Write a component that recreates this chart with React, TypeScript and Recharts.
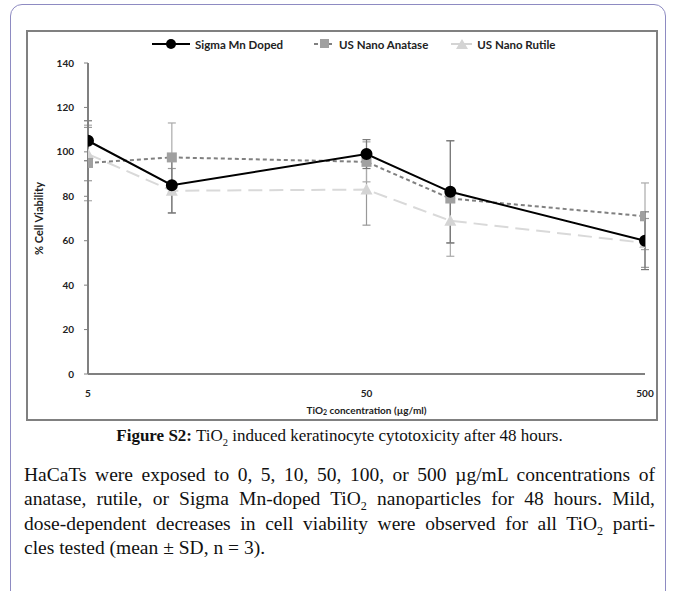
import React from 'react';
import { LineChart, Line, XAxis, YAxis, ErrorBar, Legend } from 'recharts';

const doses = [5, 10, 50, 100, 500];
const sigmaMean = [105, 85, 99, 82, 60];
const sigmaSd = [9, 12.5, 6.5, 23, 13];
const anataseMean = [95, 97.5, 95.5, 79, 71];
const anataseSd = [17, 15.5, 9, 26, 15];
const rutileMean = [99, 82.5, 83, 69, 59];
const rutileSd = [12, 10, 16, 10, 11];
const xTicks = [5, 50, 500];
const yTicks = [0, 20, 40, 60, 80, 100, 120, 140];
const seriesNames = ['Sigma Mn Doped', 'US Nano Anatase', 'US Nano Rutile'];

const data = doses.map((x, i) => ({
  x,
  sigma: sigmaMean[i],
  sigmaErr: sigmaSd[i],
  anatase: anataseMean[i],
  anataseErr: anataseSd[i],
  rutile: rutileMean[i],
  rutileErr: rutileSd[i],
}));

const FONT = 'Lato, "Open Sans", sans-serif';
const SERIF = '"Liberation Serif", "Times New Roman", serif';

const SquareDot = (props: any) => {
  const { cx, cy, index } = props;
  if (cx == null || cy == null) return <g key={`sq-${index}`} />;
  return <rect key={`sq-${index}`} x={cx - 5} y={cy - 5} width={10} height={10} fill="#a0a0a0" />;
};

const TriDot = (props: any) => {
  const { cx, cy, index } = props;
  if (cx == null || cy == null) return <g key={`tr-${index}`} />;
  return (
    <polygon
      key={`tr-${index}`}
      points={`${cx},${cy - 6} ${cx + 6},${cy + 5} ${cx - 6},${cy + 5}`}
      fill="#d4d4d4"
    />
  );
};

const LegendContent = () => (
  <div
    style={{
      display: 'flex',
      justifyContent: 'flex-start',
      alignItems: 'center',
      fontFamily: FONT,
      fontWeight: 700,
      fontSize: 11.5,
      color: '#222',
      paddingLeft: 124,
      height: 16,
    }}
  >
    <div style={{ display: 'flex', alignItems: 'center', marginRight: 31 }}>
      <svg width={38} height={12}>
        <line x1={0} y1={6} x2={38} y2={6} stroke="#000" strokeWidth={2} />
        <circle cx={19} cy={6} r={5} fill="#000" />
      </svg>
      <span style={{ marginLeft: 5 }}>{seriesNames[0]}</span>
    </div>
    <div style={{ display: 'flex', alignItems: 'center', marginRight: 23 }}>
      <svg width={21} height={12}>
        <line x1={0} y1={6} x2={21} y2={6} stroke="#808080" strokeWidth={2} strokeDasharray="4 3" />
        <rect x={6} y={1} width={9} height={9} fill="#a0a0a0" />
      </svg>
      <span style={{ marginLeft: 4 }}>{seriesNames[1]}</span>
    </div>
    <div style={{ display: 'flex', alignItems: 'center' }}>
      <svg width={21} height={12}>
        <line x1={0} y1={6} x2={21} y2={6} stroke="#d4d4d4" strokeWidth={2} />
        <polygon points="11,1 17,11 5,11" fill="#d4d4d4" />
      </svg>
      <span style={{ marginLeft: 5 }}>{seriesNames[2]}</span>
    </div>
  </div>
);

const YLabel = (props: any) => {
  const vb = props.viewBox || {};
  const x = 10;
  const y = vb.y + vb.height / 2;
  return (
    <text
      x={x}
      y={y}
      transform={`rotate(-90 ${x} ${y})`}
      textAnchor="middle"
      dominantBaseline="central"
      fontFamily={FONT}
      fontWeight={700}
      fontSize={11}
      fill="#222"
    >
      % Cell Viability
    </text>
  );
};

const XLabel = (props: any) => {
  const vb = props.viewBox || {};
  const x = vb.x + vb.width / 2;
  const y = vb.y + 36;
  return (
    <text x={x} y={y} textAnchor="middle" dominantBaseline="central" fontFamily={FONT} fontWeight={700} fontSize={10} fill="#222">
      TiO<tspan fontSize={7} dy={2}>2</tspan>
      <tspan dy={-2}> concentration (µg/ml)</tspan>
    </text>
  );
};

const Sub = () => <sub style={{ fontSize: '0.62em', verticalAlign: -5, lineHeight: 0 }}>2</sub>;

const lineStyle: React.CSSProperties = {
  textAlign: 'justify',
  textAlignLast: 'justify',
  whiteSpace: 'nowrap',
  height: 24.3,
};

export default function App() {
  return (
    <div style={{ position: 'absolute', left: 0, top: 0, width: 678, height: 591, background: '#fff', overflow: 'hidden' }}>
      <div
        style={{
          position: 'absolute',
          left: 10,
          top: 4,
          width: 656,
          height: 620,
          border: '1.5px solid #8e8bc2',
          borderRadius: 12,
          boxSizing: 'border-box',
        }}
      />
      <div
        style={{
          position: 'absolute',
          left: 26,
          top: 30,
          width: 632,
          height: 391,
          border: '2px solid #808080',
          boxSizing: 'border-box',
          background: '#fff',
        }}
      >
        <LineChart width={628} height={387} data={data} margin={{ top: 15, right: 11, bottom: 0, left: 0 }}>
          <Legend verticalAlign="top" content={<LegendContent />} wrapperStyle={{ position: 'absolute', top: 4, left: 0, width: '100%' }} />
          <XAxis
            dataKey="x"
            type="number"
            scale="log"
            domain={[5, 500]}
            ticks={xTicks}
            allowDataOverflow
            tickLine={false}
            axisLine={{ stroke: '#808080', strokeWidth: 2 }}
            tick={{ fontFamily: FONT, fontWeight: 700, fontSize: 10, fill: '#222' }}
            tickMargin={10}
            height={45}
            label={<XLabel />}
          />
          <YAxis
            type="number"
            domain={[0, 140]}
            ticks={yTicks}
            width={60}
            tickSize={4}
            tickMargin={10}
            axisLine={{ stroke: '#808080', strokeWidth: 2 }}
            tickLine={{ stroke: '#808080' }}
            tick={{ fontFamily: FONT, fontWeight: 700, fontSize: 10, fill: '#222' }}
            label={<YLabel />}
          />
          <Line dataKey="rutile" stroke="#d9d9d9" strokeWidth={2} strokeDasharray="14 7" dot={<TriDot />} isAnimationActive={false}>
            <ErrorBar dataKey="rutileErr" direction="y" width={4} stroke="#999" strokeWidth={1.2} />
          </Line>
          <Line dataKey="anatase" stroke="#808080" strokeWidth={2} strokeDasharray="4 3" dot={<SquareDot />} isAnimationActive={false}>
            <ErrorBar dataKey="anataseErr" direction="y" width={4} stroke="#aaa" strokeWidth={1.2} />
          </Line>
          <Line dataKey="sigma" stroke="#000" strokeWidth={2} dot={{ r: 5, fill: '#000', stroke: '#000' }} isAnimationActive={false}>
            <ErrorBar dataKey="sigmaErr" direction="y" width={4} stroke="#777" strokeWidth={1.2} />
          </Line>
        </LineChart>
      </div>
      <div
        style={{
          position: 'absolute',
          left: 24,
          top: 424,
          width: 631,
          textAlign: 'center',
          fontFamily: SERIF,
          fontSize: 17,
          lineHeight: '24px',
          color: '#111',
        }}
      >
        <b>Figure S2:</b> TiO<Sub /> induced keratinocyte cytotoxicity after 48 hours.
      </div>
      <div
        style={{
          position: 'absolute',
          left: 24,
          top: 463,
          width: 631,
          fontFamily: SERIF,
          fontSize: 19.5,
          lineHeight: '24.3px',
          color: '#111',
        }}
      >
        <div style={lineStyle}>HaCaTs were exposed to 0, 5, 10, 50, 100, or 500 µg/mL concentrations of</div>
        <div style={lineStyle}>
          anatase, rutile, or Sigma Mn-doped TiO<Sub /> nanoparticles for 48 hours. Mild,
        </div>
        <div style={lineStyle}>
          dose-dependent decreases in cell viability were observed for all TiO<Sub /> parti-
        </div>
        <div style={{ height: 24.3, whiteSpace: 'nowrap' }}>cles tested (mean ± SD, n = 3).</div>
      </div>
    </div>
  );
}
